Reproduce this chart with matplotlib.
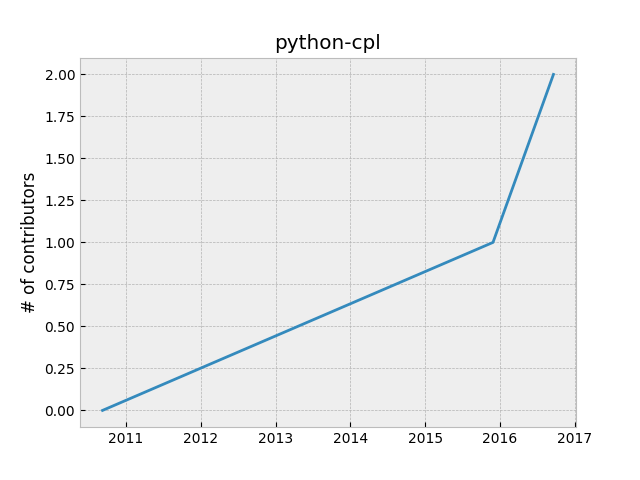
import datetime as dt
import matplotlib
matplotlib.use("Agg")
import matplotlib.pyplot as plt

# contributor history
dates = [dt.date(2010, 9, 10), dt.date(2015, 11, 28), dt.date(2016, 9, 18)]
contributors = [0, 1, 2]

plt.style.use("bmh")
fig, ax = plt.subplots(figsize=(6.4, 4.8), dpi=100)
ax.plot(dates, contributors)
ax.set_title("python-cpl")
ax.set_ylabel("# of contributors")
fig.savefig("out.png")
